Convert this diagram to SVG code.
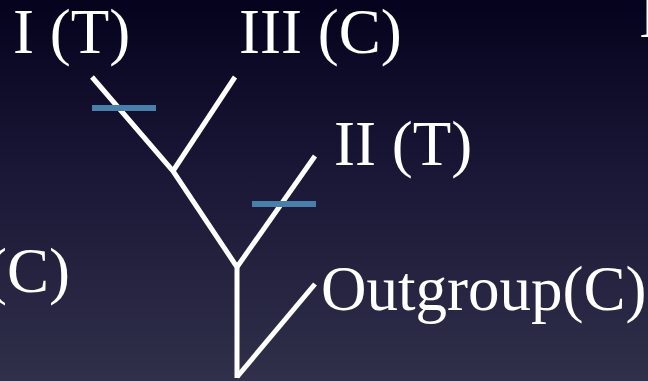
<svg xmlns="http://www.w3.org/2000/svg" width="648" height="381" viewBox="0 0 648 381">
  <defs>
    <linearGradient id="bg" x1="0" y1="0" x2="0" y2="1">
      <stop offset="0" stop-color="#05021d"/>
      <stop offset="0.45" stop-color="#1a1636"/>
      <stop offset="1" stop-color="#30304a"/>
    </linearGradient>
    <style>
      .lbl { font-family: "Liberation Serif", "Times New Roman", serif; font-size: 63px; fill: #ffffff; }
      .branch { stroke: #ffffff; stroke-width: 5; fill: none; stroke-linecap: butt; stroke-linejoin: miter; }
      .mark { fill: #4a7eab; }
    </style>
  </defs>
  <rect x="0" y="0" width="648" height="381" fill="url(#bg)"/>

  <g id="connectors">
    <polyline class="branch" points="92,77 173,171 237,267 237,378"/>
    <line class="branch" x1="235" y1="77" x2="173" y2="171"/>
    <line class="branch" x1="315" y1="156" x2="237" y2="267"/>
    <line class="branch" x1="315" y1="284" x2="237" y2="377"/>
  </g>

  <g id="mark-I">
    <rect class="mark" x="92" y="105" width="64" height="6"/>
  </g>
  <g id="mark-II">
    <rect class="mark" x="252" y="201" width="64" height="6"/>
  </g>

  <g id="node-I">
    <text class="lbl" x="13" y="53">I (T)</text>
  </g>
  <g id="node-III">
    <text class="lbl" x="239" y="53">III (C)</text>
  </g>
  <g id="node-II">
    <text class="lbl" x="334" y="165">II (T)</text>
  </g>
  <g id="node-outgroup">
    <text class="lbl" x="321" y="310">Outgroup(C)</text>
  </g>
  <g id="node-left">
    <text class="lbl" x="-14" y="292">(C)</text>
  </g>
  <g id="node-right">
    <text class="lbl" x="639" y="37">I</text>
  </g>
</svg>
